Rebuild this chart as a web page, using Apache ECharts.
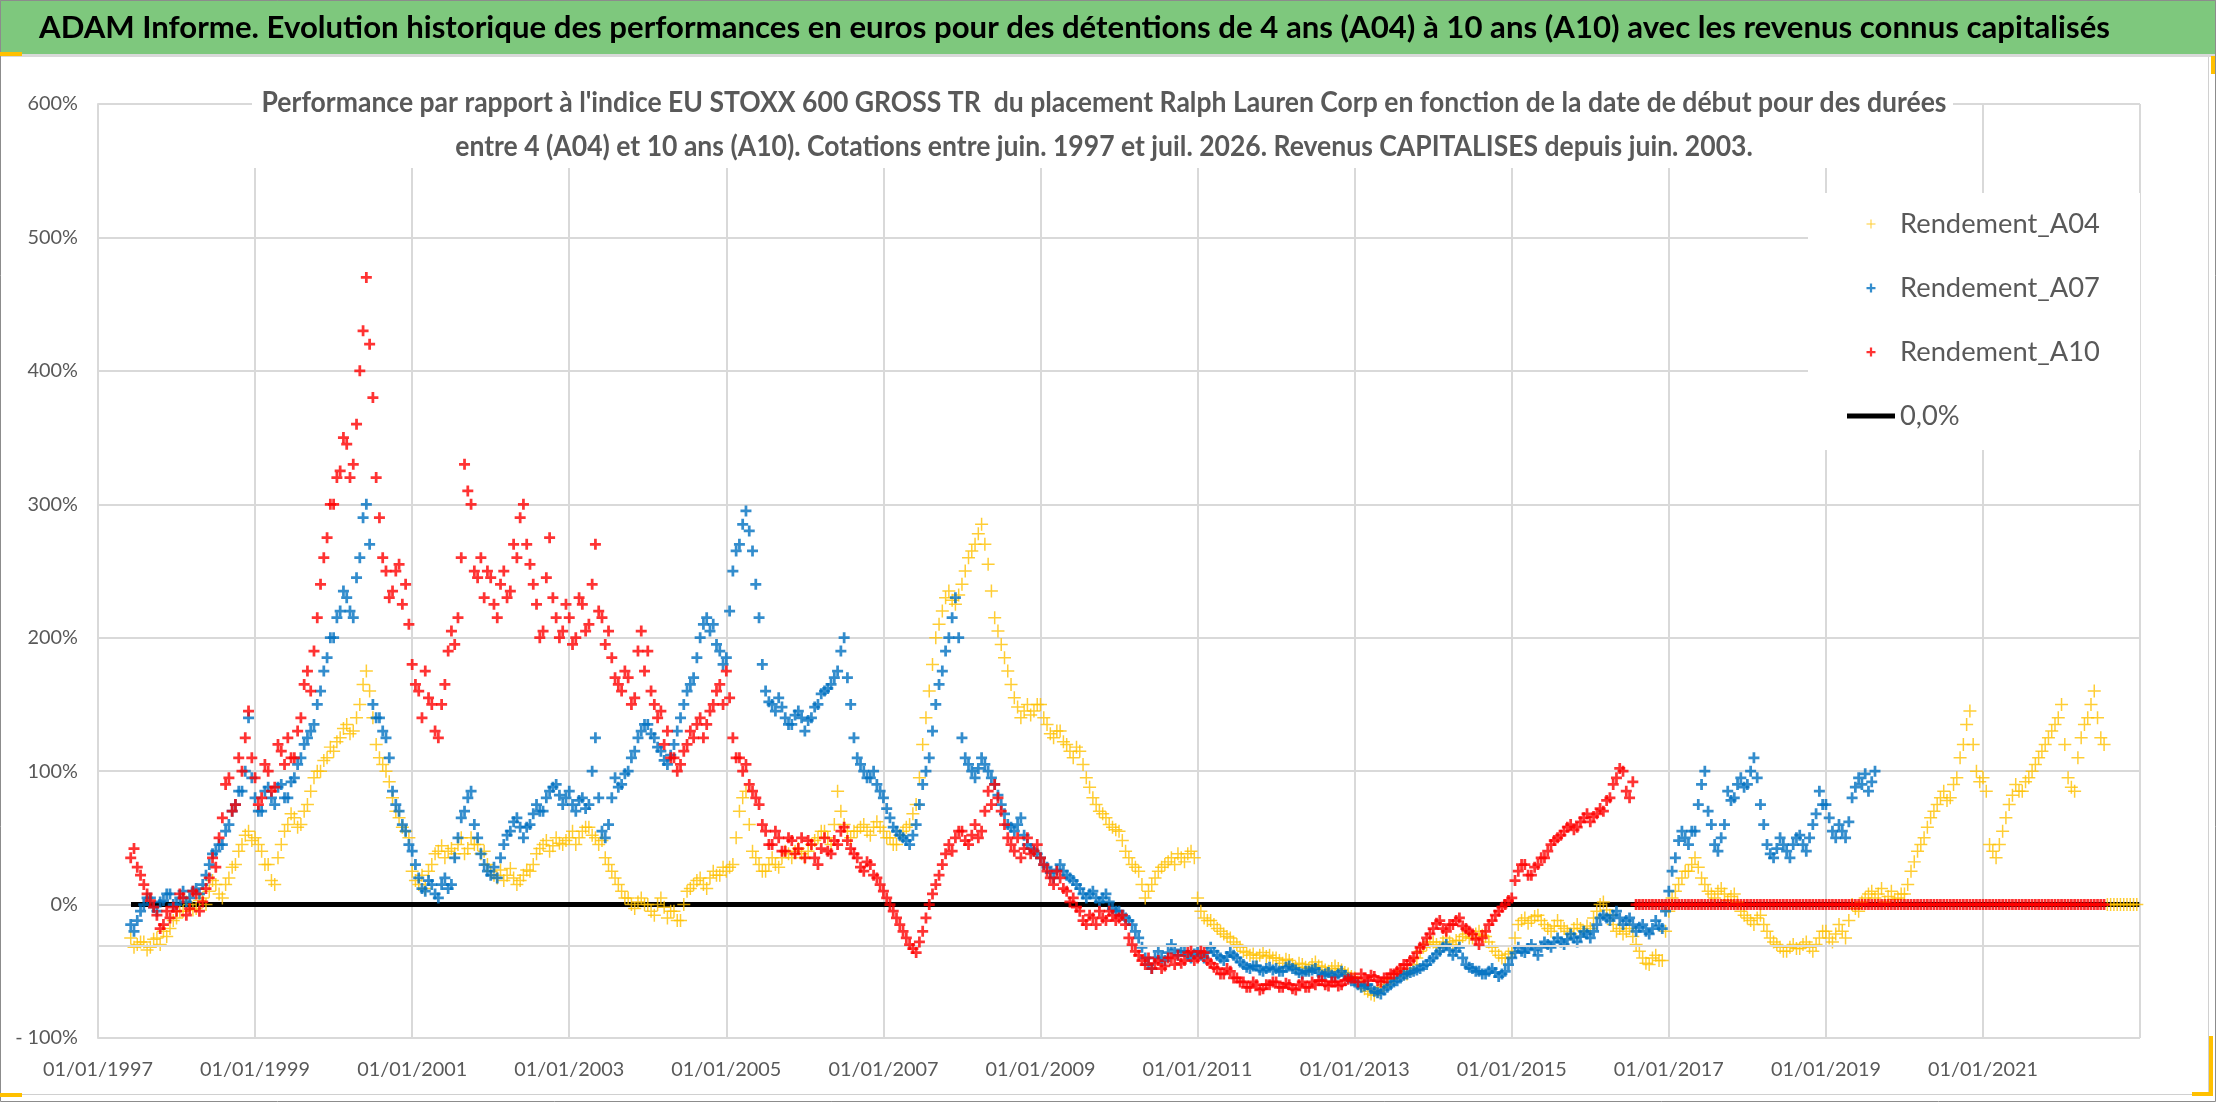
<!DOCTYPE html>
<html>
<head>
<meta charset="utf-8">
<script src="https://cdn.jsdelivr.net/npm/echarts@6/dist/echarts.min.js"></script>
<style>
html,body{margin:0;padding:0;background:#fff;}
#chart{width:2216px;height:1102px;}
</style>
</head>
<body>
<div id="chart"></div>
<script>
// ---------- TEXT ----------
const headerTitle = "ADAM Informe. Evolution historique des performances en euros pour des détentions de 4 ans (A04) à 10 ans (A10) avec les revenus connus capitalisés";
const subTitleLine1 = "Performance par rapport à l'indice EU STOXX 600 GROSS TR  du placement Ralph Lauren Corp en fonction de la date de début pour des durées";
const subTitleLine2 = "entre 4 (A04) et 10 ans (A10). Cotations entre juin. 1997 et juil. 2026. Revenus CAPITALISES depuis juin. 2003.";
const seriesNames = ["Rendement_A04", "Rendement_A07", "Rendement_A10", "0,0%"];
const xTickYears = [1997, 1999, 2001, 2003, 2005, 2007, 2009, 2011, 2013, 2015, 2017, 2019, 2021];
const yTicks = [-100, 0, 100, 200, 300, 400, 500, 600];

// ---------- DATA (in %, two readings per month: 1st and 16th) ----------
const a04Start = [1997, 6];
const a04Values = [
  -25, -32, -30, -28, -28, -34, -32, -26, -25, -30, -20, -24, -18, -12,
  -10, -5, -5, 2, 0, -4, -3, 3, 5, 0, 10, 18, 15, 8, 5, 15, 20, 28, 30, 40, 45, 52, 55, 48,
  50, 45, 40, 30, 30, 18, 15, 35, 45, 55, 60, 68, 65, 58, 60, 70, 75, 85, 95, 100, 100, 108, 110, 118,
  115, 122, 125, 132, 135, 128, 130, 140, 150, 165, 175, 160, 140, 120, 110, 105, 100, 92, 80, 70, 65, 58, 55, 50,
  25, 18, 15, 22, 12, 25, 30, 38, 40, 44, 35, 40, 42, 38, 45, 50, 38, 42, 50, 45, 45, 38, 40, 30,
  25, 22, 20, 26, 18, 22, 27, 20, 15, 18, 22, 26, 25, 30, 38, 42, 45, 48, 40, 44, 50, 46, 45, 48,
  50, 55, 45, 50, 55, 58, 58, 52, 50, 45, 48, 35, 30, 25, 20, 15, 10, 5, 5, 0, -3, 2, 5, 0,
  0, -5, -8, 0, 5, -2, -10, -5, -5, -12, -12, 0, 10, 12, 15, 18, 20, 15, 12, 20, 25, 22, 22, 28,
  25, 28, 30, 50, 70, 80, 85, 60, 40, 35, 30, 25, 25, 30, 35, 30, 28, 35, 40, 38, 35, 40, 42, 38,
  35, 40, 45, 48, 50, 55, 55, 50, 45, 60, 85, 70, 60, 55, 50, 55, 55, 58, 60, 55, 52, 58, 62, 58,
  55, 50, 50, 45, 45, 52, 55, 58, 60, 68, 75, 95, 120, 140, 160, 180, 200, 210, 220, 230, 235, 228, 225, 232,
  240, 250, 260, 265, 270, 278, 285, 270, 255, 235, 215, 205, 195, 185, 175, 165, 155, 148, 140, 145, 150, 142, 145, 150,
  150, 140, 135, 128, 125, 130, 130, 122, 120, 115, 110, 118, 115, 105, 95, 88, 80, 75, 70, 68, 65, 60, 58, 56,
  55, 48, 40, 35, 30, 28, 25, 15, 5, 10, 15, 20, 25, 28, 30, 32, 35, 30, 38, 35, 32, 38, 40, 35,
  5, -5, -10, -12, -12, -15, -18, -20, -22, -24, -25, -28, -30, -32, -35, -36, -38, -37, -40, -38, -36, -39, -38, -40,
  -40, -42, -44, -41, -42, -45, -47, -44, -45, -47, -48, -45, -43, -46, -47, -49, -50, -48, -46, -48, -49, -51, -52, -54,
  -55, -58, -60, -63, -65, -67, -68, -65, -62, -60, -58, -56, -55, -52, -50, -52, -52, -48, -45, -40, -35, -32, -30, -28,
  -28, -30, -32, -28, -25, -28, -30, -27, -27, -24, -22, -25, -25, -22, -20, -23, -24, -28, -32, -35, -38, -40, -40, -37,
  -35, -25, -15, -12, -10, -14, -12, -9, -8, -12, -15, -18, -20, -16, -12, -16, -18, -20, -22, -18, -15, -18, -20, -16,
  -18, -10, -5, 0, 2, -4, -8, -15, -20, -18, -22, -20, -18, -24, -30, -35, -40, -44, -45, -40, -38, -42, -42, -20,
  -5, 5, 10, 15, 20, 25, 25, 30, 35, 28, 20, 15, 10, 8, 5, 10, 12, 8, 3, 6, 8, 2, -5, -8,
  -10, -12, -15, -10, -8, -15, -20, -25, -28, -30, -32, -35, -35, -32, -30, -33, -33, -30, -28, -32, -35, -30, -25, -20,
  -20, -25, -28, -22, -15, -20, -25, -12, 0, -3, -5, 2, 5, 8, 10, 5, 8, 12, 2, 6, 10, 4, 5, 8,
  8, 15, 25, 32, 40, 45, 50, 58, 65, 70, 75, 80, 85, 78, 80, 90, 95, 110, 120, 135, 145, 120, 100, 92,
  95, 85, 45, 40, 35, 45, 55, 65, 75, 82, 90, 85, 85, 92, 95, 100, 105, 110, 115, 120, 125, 130, 135, 140,
  150, 120, 95, 88, 85, 110, 125, 135, 140, 150, 160, 140, 125, 120
];
const a04ZeroStart = [2022, 8];
const a04ZeroValues = [0, 0, 0, 0, 0, 0, 0, 0, 0, 0];

const a07Start = [1997, 6];
const a07Values = [
  -15, -20, -12, -5, 0, 5, 5, -2, -5, 2, 3, 8, 8, 0,
  0, 5, 10, 2, 5, 10, 12, 8, 15, 22, 30, 38, 40, 45, 45, 55, 60, 70, 75, 85, 85, 100, 140, 95,
  80, 70, 70, 85, 88, 80, 75, 88, 90, 80, 80, 92, 95, 105, 110, 120, 125, 130, 135, 150, 160, 175, 185, 200,
  200, 215, 220, 235, 230, 220, 215, 245, 260, 290, 300, 270, 150, 140, 140, 130, 125, 110, 85, 75, 70, 60, 55, 45,
  40, 30, 20, 12, 10, 18, 15, 8, 5, 15, 20, 12, 15, 35, 50, 65, 70, 80, 85, 60, 50, 38, 30, 25,
  22, 28, 20, 35, 45, 52, 55, 62, 65, 58, 50, 58, 60, 68, 75, 70, 70, 80, 85, 88, 90, 82, 75, 80,
  85, 75, 70, 78, 80, 72, 75, 100, 125, 80, 55, 50, 60, 80, 95, 88, 90, 98, 100, 110, 115, 125, 130, 135,
  135, 128, 125, 118, 115, 108, 105, 112, 120, 130, 140, 150, 160, 165, 170, 185, 200, 210, 215, 205, 210, 195, 190, 180,
  185, 220, 250, 265, 270, 285, 295, 280, 265, 240, 215, 180, 160, 152, 150, 145, 155, 148, 140, 135, 135, 142, 145, 140,
  130, 138, 140, 148, 150, 158, 160, 162, 165, 170, 175, 190, 200, 170, 150, 125, 110, 105, 100, 95, 95, 100, 90, 85,
  80, 72, 65, 58, 55, 52, 50, 48, 45, 52, 60, 75, 90, 100, 110, 130, 150, 165, 175, 190, 200, 215, 230, 200,
  125, 110, 105, 100, 95, 102, 110, 105, 100, 95, 90, 82, 75, 68, 60, 58, 55, 60, 65, 52, 45, 42, 40, 38,
  35, 30, 28, 24, 20, 26, 30, 25, 22, 20, 18, 15, 12, 8, 5, 8, 10, 5, 2, 5, 8, 2, -3, -5,
  -5, -8, -10, -12, -15, -20, -25, -32, -40, -45, -48, -40, -35, -40, -42, -36, -30, -34, -38, -35, -35, -38, -40, -37,
  -35, -38, -40, -36, -32, -35, -38, -40, -42, -39, -36, -38, -40, -43, -45, -47, -48, -46, -46, -49, -50, -48, -47, -49,
  -48, -50, -50, -47, -46, -48, -49, -51, -52, -50, -50, -49, -48, -51, -53, -52, -51, -53, -54, -52, -50, -53, -55, -57,
  -58, -60, -62, -61, -60, -63, -65, -66, -67, -64, -62, -60, -58, -57, -55, -53, -52, -51, -50, -49, -48, -46, -45, -42,
  -40, -37, -35, -32, -30, -34, -38, -35, -32, -40, -45, -47, -48, -50, -50, -52, -52, -50, -48, -51, -54, -52, -50, -45,
  -40, -36, -32, -35, -36, -33, -30, -34, -38, -32, -28, -30, -32, -28, -25, -28, -30, -26, -22, -25, -28, -24, -20, -22,
  -25, -20, -15, -10, -8, -10, -12, -8, -5, -10, -15, -12, -10, -15, -20, -17, -15, -20, -22, -18, -12, -16, -18, -5,
  10, 25, 35, 48, 55, 50, 45, 55, 55, 75, 90, 100, 70, 60, 45, 40, 50, 60, 85, 78, 80, 90, 95, 88,
  90, 100, 110, 95, 75, 60, 45, 38, 35, 42, 50, 45, 40, 35, 45, 50, 52, 45, 40, 50, 60, 68, 85, 75,
  75, 65, 55, 50, 60, 55, 50, 62, 80, 88, 95, 90, 98, 85, 92, 100
];

const a10Start = [1997, 6];
const a10Values = [
  35, 42, 28, 22, 15, 8, 3, -2, -8, -18, -15, -5, -10, -2,
  -5, 8, 5, -8, -3, 10, 8, -5, 2, 12, 20, 35, 28, 50, 65, 90, 95, 70, 75, 110, 100, 125, 145, 110,
  95, 75, 80, 105, 100, 85, 88, 120, 115, 105, 125, 110, 110, 130, 140, 165, 175, 160, 190, 215, 240, 260, 275, 300,
  300, 320, 325, 350, 345, 320, 330, 360, 400, 430, 470, 420, 380, 320, 290, 260, 250, 230, 235, 250, 255, 225, 240, 210,
  180, 165, 160, 140, 175, 155, 150, 130, 125, 150, 165, 190, 205, 195, 215, 260, 330, 310, 300, 250, 245, 260, 230, 250,
  245, 225, 215, 240, 250, 230, 235, 270, 260, 290, 300, 270, 255, 240, 225, 200, 205, 245, 275, 230, 215, 200, 205, 225,
  215, 195, 200, 230, 225, 205, 210, 240, 270, 220, 215, 195, 205, 185, 170, 165, 160, 175, 170, 150, 155, 190, 205, 175,
  190, 160, 150, 140, 145, 120, 130, 110, 110, 100, 105, 115, 120, 130, 125, 135, 140, 125, 135, 145, 150, 160, 165, 150,
  175, 155, 125, 110, 110, 100, 105, 90, 85, 80, 75, 60, 55, 45, 45, 55, 50, 40, 40, 50, 48, 38, 42, 50,
  35, 48, 45, 35, 30, 42, 50, 40, 38, 48, 45, 55, 58, 48, 42, 38, 35, 28, 25, 32, 30, 22, 20, 15,
  10, 5, 0, -5, -10, -15, -20, -25, -30, -33, -36, -28, -20, -10, 0, 8, 15, 22, 30, 38, 45, 40, 50, 55,
  55, 48, 45, 52, 60, 50, 55, 70, 85, 75, 90, 80, 70, 60, 50, 45, 40, 50, 35, 42, 50, 38, 40, 45,
  35, 30, 25, 20, 15, 25, 20, 12, 10, 2, 5, -2, -5, -12, -15, -8, -10, -15, -5, -10, -12, -5, -8, -12,
  -10, -8, -15, -25, -30, -35, -38, -42, -45, -40, -48, -44, -42, -48, -46, -40, -40, -45, -38, -44, -42, -36, -35, -42,
  -40, -35, -36, -42, -44, -47, -48, -52, -52, -48, -50, -55, -55, -58, -58, -62, -62, -58, -60, -64, -63, -60, -60, -58,
  -58, -62, -62, -59, -60, -63, -64, -60, -58, -62, -62, -58, -60, -57, -57, -60, -61, -58, -58, -61, -60, -57, -56, -55,
  -55, -58, -52, -55, -57, -53, -54, -57, -58, -55, -55, -52, -52, -50, -48, -45, -45, -42, -40, -36, -32, -30, -25, -22,
  -18, -14, -12, -18, -20, -15, -15, -12, -10, -16, -18, -20, -22, -26, -30, -25, -20, -15, -12, -8, -5, -2, 0, 3,
  5, 18, 25, 30, 30, 22, 22, 28, 30, 35, 35, 40, 45, 48, 50, 52, 55, 58, 60, 56, 58, 62, 65, 68,
  62, 66, 68, 72, 70, 78, 80, 90, 95, 102, 100, 85, 80, 92
];
const a10ZeroStart = [2016, 8];
const a10ZeroValues = [
  0, 0, 0, 0, 0, 0, 0, 0, 0, 0,
  0, 0, 0, 0, 0, 0, 0, 0, 0, 0, 0, 0, 0, 0, 0, 0, 0, 0, 0, 0, 0, 0, 0, 0,
  0, 0, 0, 0, 0, 0, 0, 0, 0, 0, 0, 0, 0, 0, 0, 0, 0, 0, 0, 0, 0, 0, 0, 0,
  0, 0, 0, 0, 0, 0, 0, 0, 0, 0, 0, 0, 0, 0, 0, 0, 0, 0, 0, 0, 0, 0, 0, 0,
  0, 0, 0, 0, 0, 0, 0, 0, 0, 0, 0, 0, 0, 0, 0, 0, 0, 0, 0, 0, 0, 0, 0, 0,
  0, 0, 0, 0, 0, 0, 0, 0, 0, 0, 0, 0, 0, 0, 0, 0, 0, 0, 0, 0, 0, 0, 0, 0,
  0, 0, 0, 0, 0, 0, 0, 0, 0, 0, 0, 0, 0, 0
];

const zeroLineYears = [1997.42, 2022.99];
const zeroLineValues = [0, 0];
const extraGridValue = -31;

// ---------- BUILD ----------
function toPoints(start, values, perMonth) {
  return values.map((v, i) => [start[0] + (start[1] - 1 + i / perMonth) / 12, v]);
}
const FF = 'Lato, "Liberation Sans", sans-serif';
const GRID = '#d9d9d9';
const TXT = '#595959';
const plusBold = 'path://M3,0h2v3h3v2h-3v3h-2v-3h-3v-2h3z';
const plusThin = 'path://M5,0h1.3v5h5v1.3h-5v5h-1.3v-5h-5v-1.3h5z';
const lineIcon = 'path://M0,0h48v5h-48z';

const ctx = document.createElement('canvas').getContext('2d');
function textW(t, size, weight) { ctx.font = (weight || 'normal') + ' ' + size + 'px ' + FF; return ctx.measureText(t).width; }

const headFs = 31, subFs = 29;
const headScale = 2071 / textW(headerTitle, headFs, 'bold');
const subScale = 1685 / textW(subTitleLine1, subFs, 'bold');
const legendFs = Math.min(34, 31 * 200 / textW('Rendement_A04', 31));
const axisFs = Math.min(26, 25 * 110 / textW('01/01/1997', 25));

const chart = echarts.init(document.getElementById('chart'));
chart.setOption({
  backgroundColor: '#ffffff',
  animation: false,
  graphic: [
    { type: 'rect', z: -1, shape: { x: 0, y: 0, width: 2216, height: 54 }, style: { fill: '#7ec87d' } },
    { type: 'rect', z: -1, shape: { x: 0, y: 54, width: 2216, height: 3 }, style: { fill: '#d9d9d9' } },
    { type: 'rect', z: 1, shape: { x: 252, y: 78, width: 1701, height: 90 }, style: { fill: '#ffffff' } },
    { type: 'rect', z: 1, shape: { x: 1808, y: 193, width: 332, height: 257 }, style: { fill: '#ffffff' } },
    { type: 'rect', z: 1, shape: { x: 2208, y: 57, width: 1, height: 1037 }, style: { fill: '#d0d0d0' } },
    { type: 'rect', z: 1, shape: { x: 0, y: 1094, width: 2209, height: 1 }, style: { fill: '#d0d0d0' } },
    { type: 'rect', z: 1, shape: { x: 0.5, y: 0.5, width: 2215, height: 1101 }, style: { fill: 'none', stroke: '#8c8c8c', lineWidth: 1 } },
    { type: 'rect', z: 1, shape: { x: 0, y: 52, width: 22, height: 4 }, style: { fill: '#ffc000' } },
    { type: 'rect', z: 1, shape: { x: 2211, y: 56, width: 4, height: 18 }, style: { fill: '#ffc000' } },
    { type: 'rect', z: 1, shape: { x: 0, y: 1093, width: 22, height: 4 }, style: { fill: '#ffc000' } },
    { type: 'rect', z: 1, shape: { x: 2209, y: 1036, width: 4, height: 60 }, style: { fill: '#ffc000' } },
    { type: 'rect', z: 1, shape: { x: 2192, y: 1092, width: 21, height: 4 }, style: { fill: '#ffc000' } },
    { type: 'text', z: 5, x: 39, y: 28, scaleX: headScale,
      style: { text: headerTitle, fontFamily: FF, fontWeight: 'bold', fontSize: headFs, fill: '#000000', align: 'left', verticalAlign: 'middle' } },
    { type: 'text', z: 5, x: 1104, y: 103, scaleX: subScale,
      style: { text: subTitleLine1, fontFamily: FF, fontWeight: 'bold', fontSize: subFs, fill: TXT, align: 'center', verticalAlign: 'middle' } },
    { type: 'text', z: 5, x: 1104, y: 147, scaleX: subScale,
      style: { text: subTitleLine2, fontFamily: FF, fontWeight: 'bold', fontSize: subFs, fill: TXT, align: 'center', verticalAlign: 'middle' } }
  ],
  legend: {
    orient: 'vertical', left: 1847, top: 206, padding: 0,
    itemWidth: 48, itemHeight: 9, itemGap: 28,
    textStyle: { fontFamily: FF, fontSize: legendFs, color: TXT, lineHeight: 36 },
    data: [
      { name: seriesNames[0], icon: plusThin },
      { name: seriesNames[1], icon: plusBold },
      { name: seriesNames[2], icon: plusBold },
      { name: seriesNames[3], icon: lineIcon }
    ]
  },
  grid: { left: 98, right: 76, top: 104, bottom: 64, containLabel: false },
  xAxis: {
    type: 'value', min: xTickYears[0], max: 2022.999, interval: 2,
    axisLine: { show: true, lineStyle: { color: GRID, width: 2 } },
    axisTick: { show: false },
    splitLine: { show: true, lineStyle: { color: GRID, width: 2 } },
    axisLabel: { margin: 22, fontFamily: FF, fontSize: axisFs, color: TXT,
      formatter: v => xTickYears.indexOf(v) >= 0 ? '01/01/' + v : '' }
  },
  yAxis: {
    type: 'value', min: yTicks[0], max: yTicks[yTicks.length - 1], interval: 100,
    axisLine: { show: true, lineStyle: { color: GRID, width: 2 } },
    axisTick: { show: false },
    splitLine: { show: true, lineStyle: { color: GRID, width: 2 } },
    axisLabel: { margin: 20, fontFamily: FF, fontSize: axisFs, color: TXT,
      formatter: v => v < 0 ? '- ' + Math.abs(v) + '%' : v + '%' }
  },
  series: [
    { name: seriesNames[3], type: 'line', z: 2, symbol: 'none', silent: true,
      data: zeroLineYears.map((x, i) => [x, zeroLineValues[i]]),
      lineStyle: { color: '#000000', width: 5 }, itemStyle: { color: '#000000' },
      markLine: { silent: true, symbol: ['none', 'none'], label: { show: false },
        lineStyle: { color: GRID, width: 2, type: 'solid' }, data: [{ yAxis: extraGridValue }] } },
    { name: seriesNames[0], type: 'scatter', z: 3, symbol: plusThin, symbolSize: 13,
      itemStyle: { color: '#ffc000' },
      data: toPoints(a04Start, a04Values, 2).concat(toPoints(a04ZeroStart, a04ZeroValues, 2)) },
    { name: seriesNames[1], type: 'scatter', z: 4, symbol: plusBold, symbolSize: 11,
      itemStyle: { color: '#0070c0' }, data: toPoints(a07Start, a07Values, 2) },
    { name: seriesNames[2], type: 'scatter', z: 5, symbol: plusBold, symbolSize: 11,
      itemStyle: { color: '#ff0000' },
      data: toPoints(a10Start, a10Values, 2).concat(toPoints(a10ZeroStart, a10ZeroValues, 2)) }
  ]
});
</script>
</body>
</html>
